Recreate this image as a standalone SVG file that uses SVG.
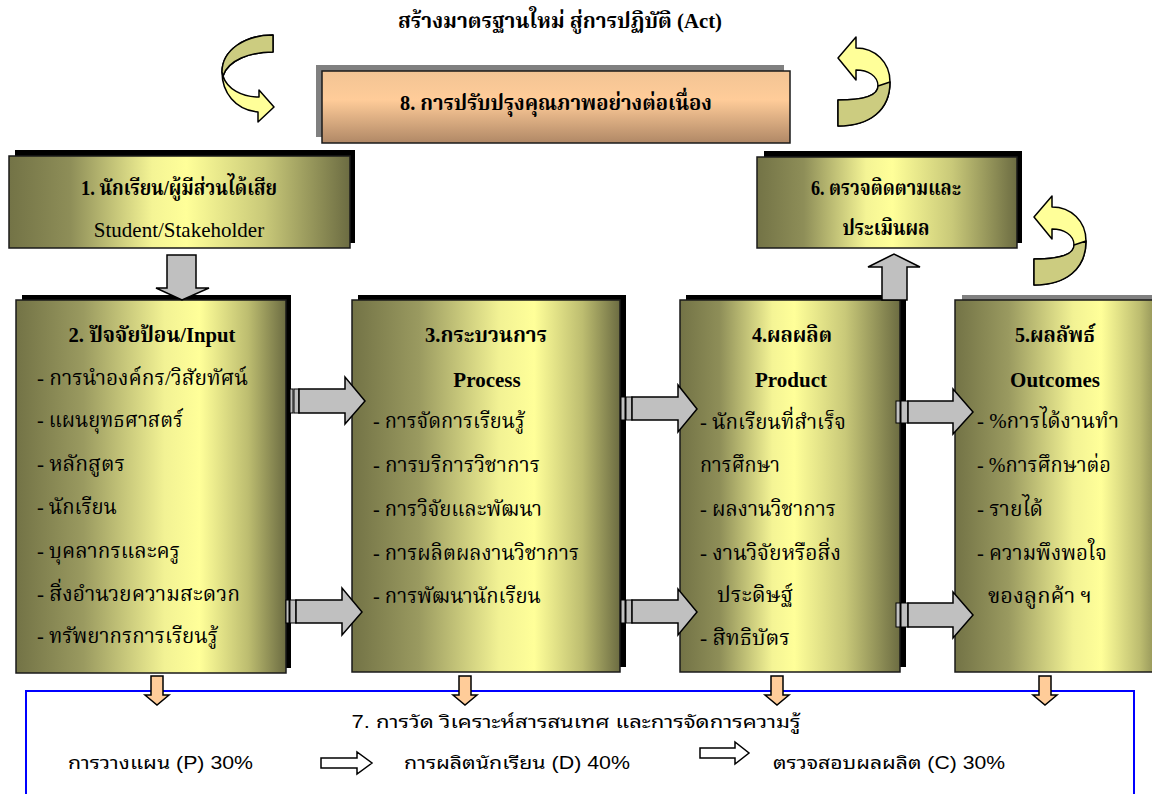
<svg xmlns="http://www.w3.org/2000/svg" xmlns:xlink="http://www.w3.org/1999/xlink" width="1152" height="794" viewBox="0 0 1152 794">
  <style>
    .tb { font-family: "Liberation Serif", "Noto Serif Thai", "Noto Sans Thai Looped", "Norasi", "Noto Sans Thai", serif; font-weight: bold; font-size: 21px; fill: #000; }
    .tr { font-family: "Liberation Serif", "Noto Serif Thai", "Noto Sans Thai Looped", "Norasi", "Noto Sans Thai", serif; font-size: 21px; fill: #000; }
    .ts { font-family: "Liberation Sans", "Noto Sans Thai Looped", "Noto Sans Thai", "DejaVu Sans", sans-serif; font-size: 18px; fill: #000; }
    .box { stroke: #1a1a1a; stroke-width: 1.5; }
    .shadow { fill: #000; }
    .garrow { fill: #c0c0c0; stroke: #000; stroke-width: 1.5; stroke-linejoin: miter; }
    .tab { fill: #c0c0c0; stroke: #000; stroke-width: 1; }
    .parrow { fill: #ffcc99; stroke: #000; stroke-width: 1.5; }
    .hollow { fill: #fff; stroke: #000; stroke-width: 1.5; }
    .curl-front { fill: #ffff99; stroke: #000; stroke-width: 1.5; stroke-linejoin: round; }
    .curl-back { fill: #cccc80; stroke: #000; stroke-width: 1.5; stroke-linejoin: round; }
  </style>
  <defs>
    <linearGradient id="olA" x1="0" y1="0" x2="1" y2="0">
      <stop offset="0" stop-color="#737346"/>
      <stop offset="0.18" stop-color="#8e8e58"/>
      <stop offset="0.42" stop-color="#f4f495"/>
      <stop offset="0.52" stop-color="#ffff99"/>
      <stop offset="0.75" stop-color="#c9c979"/>
      <stop offset="1" stop-color="#6c6c42"/>
    </linearGradient>
    <linearGradient id="olB" x1="0" y1="0" x2="1" y2="0">
      <stop offset="0" stop-color="#737346"/>
      <stop offset="0.25" stop-color="#9a9a60"/>
      <stop offset="0.55" stop-color="#f2f294"/>
      <stop offset="0.68" stop-color="#ffff99"/>
      <stop offset="0.86" stop-color="#bdbd70"/>
      <stop offset="1" stop-color="#6c6c42"/>
    </linearGradient>
    <linearGradient id="peach" x1="0" y1="0" x2="0" y2="1">
      <stop offset="0" stop-color="#f2c494"/>
      <stop offset="0.4" stop-color="#ffcc99"/>
      <stop offset="1" stop-color="#b08866"/>
    </linearGradient>
    <!-- twisted curved arrow, head pointing left -->
    <g id="curl">
      <path class="curl-front" d="M838 126 C870 126 890 110 890 82 C890 62 875 48 856 48 L856 37 L838 58 L856 80 L856 70 C868 70 878 76 878 86 C878 96 862 100 838 100 Z"/>
      <path class="curl-back" d="M838 126 C870 126 890 110 890 82 L878 86 C878 96 862 100 838 100 Z"/>
    </g>
  </defs>

  <rect width="1152" height="794" fill="#fff"/>

  <!-- heading -->
  <text class="tb" x="560" y="28" text-anchor="middle" font-size="19" textLength="324" lengthAdjust="spacingAndGlyphs">สร้างมาตรฐานใหม่ สู่การปฏิบัติ (Act)</text>

  <!-- curved arrows -->
  <g id="curl-left">
    <path class="curl-front" d="M273 35 C245 35 222 50 222 72 C222 92 235 110 258 112 L258 122 L274 107 L259 90 L259 97 C242 97 227 89 223 76 C228 60 250 52 273 52 Z"/>
    <path class="curl-back" d="M273 35 C245 35 222 50 222 72 L223 76 C228 60 250 52 273 52 Z"/>
  </g>
  <g id="curl-top-right"><use xlink:href="#curl"/></g>
  <g id="curl-right"><use xlink:href="#curl" transform="translate(196 159)"/></g>

  <!-- 8: continuous improvement -->
  <g id="n8">
    <rect x="316" y="65" width="468" height="72" fill="#808080"/>
    <rect class="box" x="322" y="71" width="468" height="72" fill="url(#peach)"/>
    <text class="tb" x="556" y="110" text-anchor="middle" textLength="312" lengthAdjust="spacingAndGlyphs">8. การปรับปรุงคุณภาพอย่างต่อเนื่อง</text>
  </g>

  <!-- 1: students / stakeholders -->
  <g id="n1">
    <rect class="shadow" x="15" y="150" width="340" height="93"/>
    <rect class="box" x="9" y="156" width="341" height="92" fill="url(#olA)"/>
    <text class="tb" x="179" y="195" text-anchor="middle" textLength="196" lengthAdjust="spacingAndGlyphs">1. นักเรียน/ผู้มีส่วนได้เสีย</text>
    <text class="tr" x="179" y="237" text-anchor="middle">Student/Stakeholder</text>
  </g>

  <!-- 6: monitoring and evaluation -->
  <g id="n6">
    <rect class="shadow" x="764" y="151" width="258" height="92"/>
    <rect class="box" x="757" y="157" width="260" height="91" fill="url(#olA)"/>
    <text class="tb" x="886" y="195" text-anchor="middle" textLength="150" lengthAdjust="spacingAndGlyphs">6. ตรวจติดตามและ</text>
    <text class="tb" x="886" y="235" text-anchor="middle" textLength="87" lengthAdjust="spacingAndGlyphs">ประเมินผล</text>
  </g>

  <!-- 2: input -->
  <g id="n2">
    <rect class="shadow" x="22" y="295" width="269" height="373"/>
    <rect class="box" x="16" y="300" width="270" height="373" fill="url(#olB)"/>
    <text class="tb" x="152" y="342" text-anchor="middle" textLength="167" lengthAdjust="spacingAndGlyphs">2. ปัจจัยป้อน/Input</text>
    <text class="tr" x="37" y="385" textLength="211" lengthAdjust="spacingAndGlyphs">- การนำองค์กร/วิสัยทัศน์</text>
    <text class="tr" x="37" y="427" textLength="146" lengthAdjust="spacingAndGlyphs">- แผนยุทธศาสตร์</text>
    <text class="tr" x="37" y="471" textLength="88" lengthAdjust="spacingAndGlyphs">- หลักสูตร</text>
    <text class="tr" x="37" y="514" textLength="80" lengthAdjust="spacingAndGlyphs">- นักเรียน</text>
    <text class="tr" x="37" y="558" textLength="143" lengthAdjust="spacingAndGlyphs">- บุคลากรและครู</text>
    <text class="tr" x="37" y="601" textLength="203" lengthAdjust="spacingAndGlyphs">- สิ่งอำนวยความสะดวก</text>
    <text class="tr" x="37" y="643" textLength="181" lengthAdjust="spacingAndGlyphs">- ทรัพยากรการเรียนรู้</text>
  </g>

  <!-- 3: process -->
  <g id="n3">
    <rect class="shadow" x="358" y="295" width="268" height="372"/>
    <rect class="box" x="352" y="300" width="268" height="372" fill="url(#olB)"/>
    <text class="tb" x="486" y="342" text-anchor="middle" textLength="122" lengthAdjust="spacingAndGlyphs">3.กระบวนการ</text>
    <text class="tb" x="487" y="387" text-anchor="middle">Process</text>
    <text class="tr" x="373" y="428" textLength="152" lengthAdjust="spacingAndGlyphs">- การจัดการเรียนรู้</text>
    <text class="tr" x="373" y="472" textLength="167" lengthAdjust="spacingAndGlyphs">- การบริการวิชาการ</text>
    <text class="tr" x="373" y="516" textLength="169" lengthAdjust="spacingAndGlyphs">- การวิจัยและพัฒนา</text>
    <text class="tr" x="373" y="560" textLength="206" lengthAdjust="spacingAndGlyphs">- การผลิตผลงานวิชาการ</text>
    <text class="tr" x="373" y="603" textLength="168" lengthAdjust="spacingAndGlyphs">- การพัฒนานักเรียน</text>
  </g>

  <!-- 4: product -->
  <g id="n4">
    <rect class="shadow" x="686" y="295" width="220" height="372"/>
    <rect class="box" x="680" y="300" width="220" height="372" fill="url(#olA)"/>
    <text class="tb" x="792" y="342" text-anchor="middle" textLength="80" lengthAdjust="spacingAndGlyphs">4.ผลผลิต</text>
    <text class="tb" x="791" y="387" text-anchor="middle">Product</text>
    <text class="tr" x="700" y="429" textLength="146" lengthAdjust="spacingAndGlyphs">- นักเรียนที่สำเร็จ</text>
    <text class="tr" x="700" y="472" textLength="80" lengthAdjust="spacingAndGlyphs">การศึกษา</text>
    <text class="tr" x="700" y="516" textLength="136" lengthAdjust="spacingAndGlyphs">- ผลงานวิชาการ</text>
    <text class="tr" x="700" y="560" textLength="141" lengthAdjust="spacingAndGlyphs">- งานวิจัยหรือสิ่ง</text>
    <text class="tr" x="717" y="602" textLength="76" lengthAdjust="spacingAndGlyphs">ประดิษฐ์</text>
    <text class="tr" x="700" y="645" textLength="90" lengthAdjust="spacingAndGlyphs">- สิทธิบัตร</text>
  </g>

  <!-- 5: outcomes -->
  <g id="n5">
    <rect x="962" y="295" width="200" height="5" fill="#808080"/>
    <rect class="box" x="955" y="300" width="215" height="372" fill="url(#olB)"/>
    <text class="tb" x="1055" y="342" text-anchor="middle" textLength="80" lengthAdjust="spacingAndGlyphs">5.ผลลัพธ์</text>
    <text class="tb" x="1055" y="387" text-anchor="middle">Outcomes</text>
    <text class="tr" x="977" y="428" textLength="142" lengthAdjust="spacingAndGlyphs">- %การได้งานทำ</text>
    <text class="tr" x="977" y="472" textLength="134" lengthAdjust="spacingAndGlyphs">- %การศึกษาต่อ</text>
    <text class="tr" x="977" y="516" textLength="66" lengthAdjust="spacingAndGlyphs">- รายได้</text>
    <text class="tr" x="977" y="560" textLength="130" lengthAdjust="spacingAndGlyphs">- ความพึงพอใจ</text>
    <text class="tr" x="988" y="603" textLength="104" lengthAdjust="spacingAndGlyphs">ของลูกค้า ฯ</text>
  </g>

  <!-- 7: measurement, analysis and knowledge management -->
  <g id="n7">
    <rect x="26" y="691" width="1108" height="120" fill="none" stroke="#0000ff" stroke-width="2"/>
    <text class="ts" x="576" y="728" text-anchor="middle" textLength="449" lengthAdjust="spacingAndGlyphs">7. การวัด วิเคราะห์สารสนเทศ และการจัดการความรู้</text>
    <text class="ts" x="68" y="769" textLength="185" lengthAdjust="spacingAndGlyphs">การวางแผน (P) 30%</text>
    <text class="ts" x="404" y="769" textLength="226" lengthAdjust="spacingAndGlyphs">การผลิตนักเรียน (D) 40%</text>
    <text class="ts" x="773" y="769" textLength="232" lengthAdjust="spacingAndGlyphs">ตรวจสอบผลผลิต (C) 30%</text>
  </g>

  <!-- connectors -->
  <g id="connectors">
    <!-- 1 -> 2 -->
    <path class="garrow" d="M167 255 H196 V288 H209 L182 300 L156 288 H167 Z"/>
    <!-- 4 -> 6 -->
    <path class="garrow" d="M882 300 V267 H868 L894 254 L920 267 H907 V300 Z"/>

    <!-- 2 -> 3 (upper) -->
    <rect class="tab" x="290" y="389" width="3" height="24"/>
    <rect class="tab" x="294" y="389" width="5" height="24"/>
    <path class="garrow" d="M299 389 H345 V377 L365 401 L345 424 V413 H299 Z"/>
    <!-- 2 -> 3 (lower) -->
    <rect class="tab" x="286" y="600" width="3" height="23"/>
    <rect class="tab" x="290" y="600" width="6" height="23"/>
    <path class="garrow" d="M296 600 H342 V588 L362 612 L342 635 V623 H296 Z"/>

    <!-- 3 -> 4 (upper) -->
    <rect class="tab" x="621" y="397" width="4" height="23"/>
    <rect class="tab" x="626" y="397" width="6" height="23"/>
    <path class="garrow" d="M632 397 H678 V385 L697 409 L678 432 V420 H632 Z"/>
    <!-- 3 -> 4 (lower) -->
    <rect class="tab" x="621" y="600" width="4" height="23"/>
    <rect class="tab" x="626" y="600" width="6" height="23"/>
    <path class="garrow" d="M632 600 H678 V589 L697 612 L678 635 V623 H632 Z"/>

    <!-- 4 -> 5 (upper) -->
    <rect class="tab" x="896" y="401" width="4" height="22"/>
    <rect class="tab" x="901" y="401" width="7" height="22"/>
    <path class="garrow" d="M908 401 H953 V389 L973 412 L953 434 V423 H908 Z"/>
    <!-- 4 -> 5 (lower) -->
    <rect class="tab" x="896" y="603" width="4" height="24"/>
    <rect class="tab" x="901" y="603" width="7" height="24"/>
    <path class="garrow" d="M908 603 H953 V592 L973 615 L953 638 V627 H908 Z"/>

    <!-- into 7 -->
    <path class="parrow" d="M151 676 H163 V695 H169 L157 705 L145 695 H151 Z"/>
    <path class="parrow" d="M459 676 H471 V695 H477 L465 705 L453 695 H459 Z"/>
    <path class="parrow" d="M771 676 H783 V695 H789 L777 705 L765 695 H771 Z"/>
    <path class="parrow" d="M1039 676 H1051 V695 H1057 L1045 705 L1033 695 H1039 Z"/>

    <!-- P -> D -> C -->
    <path class="hollow" d="M321 758 H357 V752 L372 763 L357 774 V768 H321 Z"/>
    <path class="hollow" d="M700 748 H735 V742 L749 753 L735 764 V758 H700 Z"/>
  </g>
</svg>
